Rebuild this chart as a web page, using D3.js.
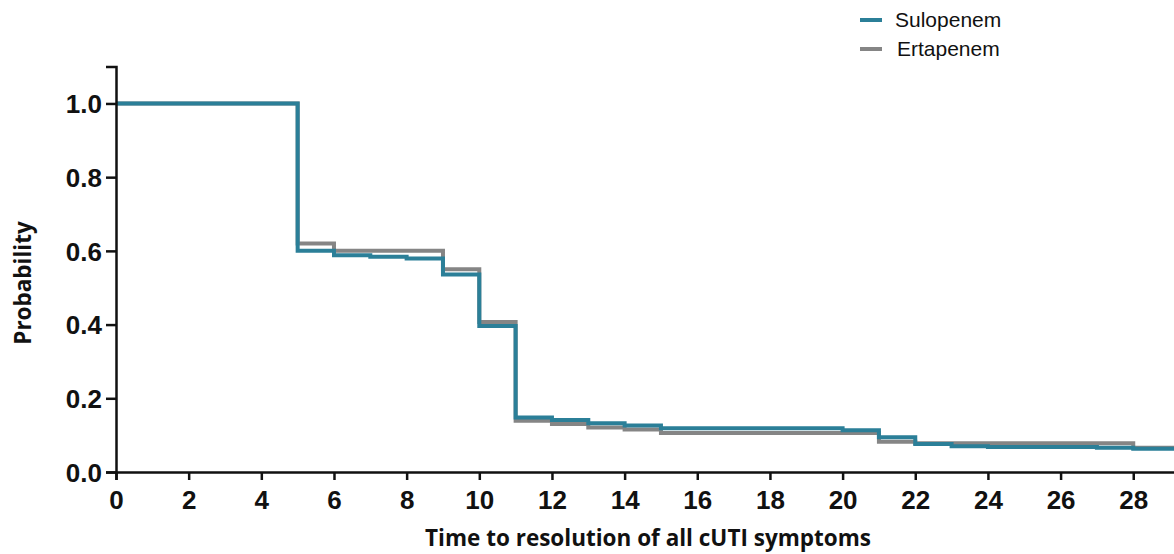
<!DOCTYPE html>
<html>
<head>
<meta charset="utf-8">
<script src="https://cdn.jsdelivr.net/npm/d3@7"></script>
<style>
  body { margin: 0; background: #fff; }
  .tick text { font-family: "Liberation Sans", Arial, sans-serif; font-weight: bold; font-size: 26px; fill: #111; }
  .axis-title { font-family: "Open Sans", sans-serif; font-weight: bold; font-size: 22.5px; fill: #111; }
  .legend text { font-family: "Liberation Sans", Arial, sans-serif; font-size: 21px; fill: #111; }
</style>
</head>
<body>
<svg id="chart"></svg>
<script>
const w = 1174;
const h = 554;

// step times (days) and survival probability after each step
const suloTimes = [0, 5, 6, 7, 8, 9, 10, 11, 12, 13, 14, 15, 20, 21, 22, 23, 24, 27, 28];
const suloProb = [1.0, 0.600, 0.588, 0.584, 0.579, 0.536, 0.396, 0.148, 0.141, 0.132, 0.126, 0.119, 0.113, 0.094, 0.076, 0.070, 0.068, 0.066, 0.063];
const ertaTimes = [0, 5, 6, 9, 10, 11, 12, 13, 14, 15, 21, 22, 28];
const ertaProb = [1.0, 0.620, 0.600, 0.550, 0.407, 0.139, 0.130, 0.121, 0.115, 0.106, 0.082, 0.078, 0.066];
const endTime = 29.2;

const xTicks = [0, 2, 4, 6, 8, 10, 12, 14, 16, 18, 20, 22, 24, 26, 28];
const yTicks = [0.0, 0.2, 0.4, 0.6, 0.8, 1.0];
const seriesNames = ['Sulopenem', 'Ertapenem'];
const colors = { Sulopenem: '#2b7f98', Ertapenem: '#858585' };

const svg = d3.select('#chart')
  .attr('width', w)
  .attr('height', h);

// Scales
const xScale = d3.scaleLinear()
  .domain([0, endTime])
  .range([116, 116 + endTime * 36.33]);
const yScale = d3.scaleLinear()
  .domain([0, 1.1])
  .range([472, 66.6]);

// build step points
function toPoints(times, probs) {
  const pts = times.map((t, i) => [t, probs[i]]);
  pts.push([endTime, probs[probs.length - 1]]);
  return pts;
}

const line = d3.line()
  .x((d) => xScale(d[0]))
  .y((d) => yScale(d[1]))
  .curve(d3.curveStepAfter);

// Ertapenem underneath, Sulopenem on top
svg.append('path')
  .datum(toPoints(ertaTimes, ertaProb))
  .attr('d', line)
  .attr('fill', 'none')
  .attr('stroke', colors.Ertapenem)
  .attr('stroke-width', 4);
svg.append('path')
  .datum(toPoints(suloTimes, suloProb))
  .attr('d', line)
  .attr('fill', 'none')
  .attr('stroke', colors.Sulopenem)
  .attr('stroke-width', 4);

// Axes
const xAxis = d3.axisBottom(xScale)
  .tickValues(xTicks)
  .tickFormat(d3.format('d'))
  .tickSizeOuter(0)
  .tickSize(8)
  .tickPadding(11);
const yAxis = d3.axisLeft(yScale)
  .tickValues(yTicks)
  .tickFormat(d3.format('.1f'))
  .tickSizeOuter(0)
  .tickSize(10)
  .tickPadding(4);

const gx = svg.append('g')
  .attr('transform', 'translate(0,' + yScale(0) + ')')
  .call(xAxis);
const gy = svg.append('g')
  .attr('transform', 'translate(' + xScale(0) + ',0)')
  .call(yAxis);
[gx, gy].forEach((g) => {
  g.select('.domain').attr('stroke', '#111').attr('stroke-width', 2.5);
  g.selectAll('.tick line').attr('stroke', '#111').attr('stroke-width', 2.5);
});
gy.selectAll('.tick text').attr('dy', '0.36em');

// Axis titles
svg.append('text')
  .attr('class', 'axis-title')
  .attr('x', 648)
  .attr('y', 546)
  .attr('text-anchor', 'middle')
  .text('Time to resolution of all cUTI symptoms');
svg.append('text')
  .attr('class', 'axis-title')
  .attr('transform', 'translate(31,283) rotate(-90)')
  .attr('text-anchor', 'middle')
  .text('Probability');

// Legend
const legend = svg.selectAll('.legend')
  .data(seriesNames)
  .enter()
  .append('g')
  .attr('class', 'legend')
  .attr('transform', (d, i) => 'translate(860,' + (20 + i * 29) + ')');
legend.append('line')
  .attr('x1', 0)
  .attr('x2', 22)
  .attr('stroke', (d) => colors[d])
  .attr('stroke-width', 4);
legend.append('text')
  .attr('x', (d, i) => 35 + i * 2)
  .attr('dy', '0.35em')
  .text((d) => d);
</script>
</body>
</html>
